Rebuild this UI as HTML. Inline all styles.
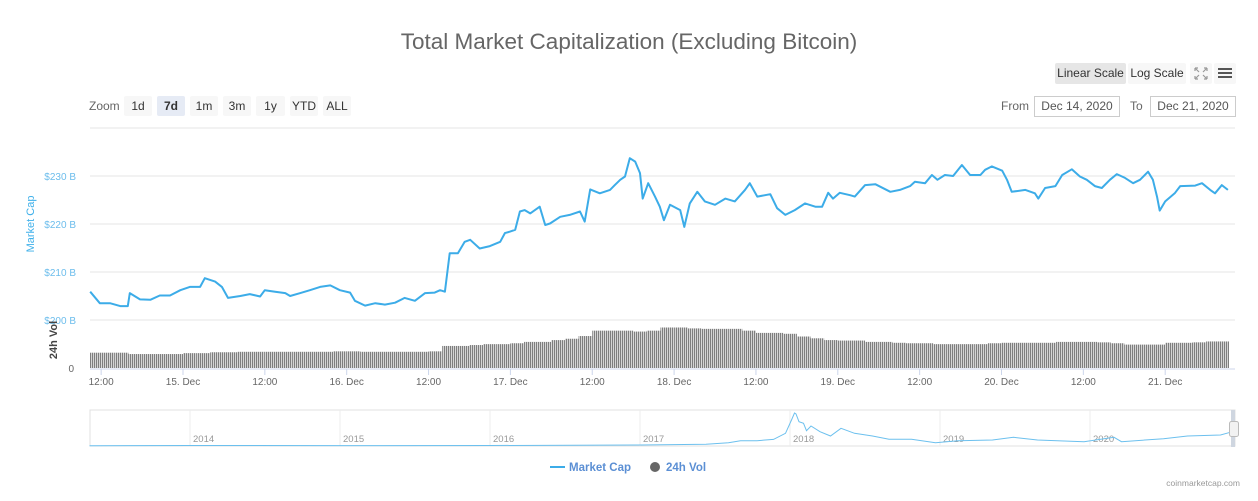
<!DOCTYPE html>
<html><head><meta charset="utf-8">
<style>
body{margin:0;background:#fff;font-family:"Liberation Sans",sans-serif;}
#wrap{position:relative;width:1258px;height:501px;overflow:hidden;}
.btn{position:absolute;height:20px;line-height:20px;font-size:12px;color:#333;background:#f7f7f7;text-align:center;border-radius:2px;}
.inp{position:absolute;height:19px;line-height:19px;border:1px solid #ccc;font-size:12px;color:#555;text-align:center;}
.lbl{position:absolute;font-size:12px;color:#666;}
</style></head>
<body><div id="wrap">
<div style="position:absolute;left:0;width:1258px;top:29px;text-align:center;font-size:22.5px;color:#666;">Total Market Capitalization (Excluding Bitcoin)</div>
<div class="btn" style="left:1055px;top:63px;width:71px;height:21px;line-height:21px;background:#e6e6e6;">Linear Scale</div>
<div class="btn" style="left:1128px;top:63px;width:58px;height:21px;line-height:21px;">Log Scale</div>
<div class="btn" style="left:1190px;top:63px;width:22px;height:21px;">
<svg width="22" height="21" style="position:absolute;left:0;top:0"><g stroke="#999" stroke-width="1.2" fill="none"><path d="M5 5l4 4M5 5h3M5 5v3"/><path d="M17 5l-4 4M17 5h-3M17 5v3"/><path d="M5 16l4-4M5 16h3M5 16v-3"/><path d="M17 16l-4-4M17 16h-3M17 16v-3"/></g></svg></div>
<div class="btn" style="left:1214px;top:63px;width:22px;height:21px;">
<div style="position:absolute;left:4px;top:5px;width:14px;height:2px;background:#555"></div><div style="position:absolute;left:4px;top:9px;width:14px;height:2px;background:#555"></div><div style="position:absolute;left:4px;top:13px;width:14px;height:2px;background:#555"></div></div>
<div class="lbl" style="left:89px;top:99px;">Zoom</div>
<div class="btn" style="left:124px;top:96px;width:28px;">1d</div>
<div class="btn" style="left:157px;top:96px;width:28px;background:#e6ebf5;font-weight:bold;">7d</div>
<div class="btn" style="left:190px;top:96px;width:28px;">1m</div>
<div class="btn" style="left:223px;top:96px;width:28px;">3m</div>
<div class="btn" style="left:256px;top:96px;width:29px;">1y</div>
<div class="btn" style="left:290px;top:96px;width:28px;">YTD</div>
<div class="btn" style="left:323px;top:96px;width:28px;">ALL</div>
<div class="lbl" style="left:1001px;top:99px;">From</div>
<div class="inp" style="left:1034px;top:96px;width:84px;">Dec 14, 2020</div>
<div class="lbl" style="left:1130px;top:99px;">To</div>
<div class="inp" style="left:1150px;top:96px;width:84px;">Dec 21, 2020</div>
<svg id="svg" width="1258" height="501" style="position:absolute;left:0;top:0">
<defs><pattern id="stripes" width="2" height="10" patternUnits="userSpaceOnUse"><rect width="1" height="10" fill="#7e7e7e"/><rect x="1" width="1" height="10" fill="#d4d4d4"/></pattern></defs>
</svg>
</div>
<script>
// Market cap (hours from 15 Dec 00:00, value in $B)
const capHours=[-13.6,-12.2,-10.7,-9.2,-8.1,-7.8,-6.3,-4.8,-3.4,-1.9,-0.4,1.0,2.5,3.2,4.7,5.7,6.6,8.4,9.8,11.3,12.0,13.5,15.0,15.7,17.2,18.6,20.1,21.6,23.0,24.5,25.2,26.7,28.2,29.6,31.1,32.5,34.0,35.5,36.9,37.7,38.4,39.1,40.3,41.3,42.1,43.5,45.0,46.5,47.2,47.9,48.7,49.4,50.1,50.9,52.3,53.1,53.8,55.3,56.7,58.2,58.9,59.7,61.1,62.6,63.3,64.1,64.8,65.5,66.3,67.0,67.4,68.2,69.2,69.9,70.5,71.4,72.9,73.5,74.3,75.4,76.5,78.0,79.5,80.9,82.4,83.1,84.2,86.1,87.1,88.3,89.7,91.2,92.7,93.7,94.6,95.3,96.3,97.8,98.5,100.0,101.5,103.7,105.1,106.6,107.3,108.8,109.8,110.6,111.7,112.9,114.2,115.4,116.9,117.6,118.6,120.1,120.8,121.5,123.5,124.9,125.4,126.4,127.9,128.9,130.3,131.5,132.5,133.7,134.7,135.9,136.9,138.1,139.3,140.3,141.5,142.2,142.8,143.2,144.0,145.4,146.2,148.4,149.4,150.6,151.3,152.3,153.2];
const capValues=[205.9,203.5,203.5,202.9,202.9,205.6,204.3,204.2,205.1,205.1,206.2,206.9,206.9,208.7,208.0,206.9,204.6,205.0,205.4,204.9,206.2,205.9,205.6,205.0,205.6,206.2,206.9,207.2,206.2,205.7,204.0,203.0,203.5,203.2,203.6,204.6,204.0,205.6,205.7,206.2,205.9,213.9,213.9,216.3,216.7,214.9,215.4,216.3,218.1,218.4,218.8,222.6,222.9,222.2,223.6,219.8,220.1,221.5,221.9,222.6,220.5,227.2,226.4,227.1,228.1,229.2,229.9,233.7,233.0,230.6,225.3,228.5,225.7,223.6,220.8,224.0,222.9,219.4,224.3,226.7,224.7,224.0,225.3,224.7,227.1,228.5,225.7,226.2,223.3,221.9,222.9,224.3,223.6,223.6,226.5,225.3,226.5,226.0,225.7,228.1,228.3,226.7,227.1,227.9,228.8,228.5,230.2,229.2,230.2,230.0,232.3,230.2,230.2,231.3,232.0,231.1,229.2,226.7,227.1,226.4,225.3,227.5,227.9,230.2,231.4,229.9,229.2,227.9,227.5,229.2,230.4,229.6,228.5,229.2,230.9,229.2,225.7,222.8,224.7,226.4,227.9,228.0,228.5,227.1,226.4,228.1,227.1];
// 24h volume, 2-hour buckets starting 14 Dec 10:00, $B
const volStartHour=-14;
const volValues=[34,34,34,31,31,31,31,33,33,35,35,36,36,36,36,36,36,36,37,37,36,36,36,36,36,37,49,49,51,53,53,55,58,58,62,65,71,83,83,83,81,83,90,90,88,87,87,87,83,78,78,76,70,66,62,61,61,58,58,56,55,55,53,53,53,53,55,56,56,56,56,58,58,58,57,55,52,52,52,56,56,57,59,59];
const capTicks=[200,210,220,230,240];
const xTickHours=[-12,0,12,24,36,48,60,72,84,96,108,120,132,144];
const xTickLabels=["12:00","15. Dec","12:00","16. Dec","12:00","17. Dec","12:00","18. Dec","12:00","19. Dec","12:00","20. Dec","12:00","21. Dec"];
// navigator: year fraction, value $B
const navYears=[2013.33,2014.0,2015.0,2016.0,2017.0,2017.44,2017.59,2017.67,2017.78,2017.89,2017.97,2018.01,2018.03,2018.04,2018.06,2018.09,2018.11,2018.14,2018.2,2018.27,2018.34,2018.43,2018.55,2018.66,2018.81,2018.97,2019.12,2019.35,2019.49,2019.65,2019.96,2020.16,2020.21,2020.49,2020.65,2020.87,2020.95];
const navValues=[5,8,6,7,15,26,50,80,80,100,192,394,500,485,368,344,232,303,217,152,268,192,152,102,102,50,80,91,132,91,65,132,65,110,152,167,217];
const navYearLabels=[2014,2015,2016,2017,2018,2019,2020];

const svg=document.getElementById('svg');
const NS='http://www.w3.org/2000/svg';
function el(tag,attrs,parent){const e=document.createElementNS(NS,tag);for(const k in attrs)e.setAttribute(k,attrs[k]);(parent||svg).appendChild(e);return e;}
const X=h=>183+h*6.8208;
const Y=v=>320-(v-200)*4.8;
const VY=v=>368-v*0.45;
const NX=t=>190+(t-2014)*150;
const NY=v=>446-v*0.066;

capTicks.forEach(v=>{
 const g=el('line',{x1:90,x2:1235,y1:Y(v),y2:Y(v),stroke:'#e6e6e6','stroke-width':1});
 
 
 if(v<240){const t=el('text',{x:76,y:Y(v)+4,'text-anchor':'end','font-size':10,fill:'#6cbdec'});t.textContent='$'+v+' B';
 
 }
});
const zt=el('text',{x:74,y:372,'text-anchor':'end','font-size':10,fill:'#666'});zt.textContent='0';


const yt=el('text',{x:0,y:0,'font-size':11,fill:'#3fb0ea',transform:'translate(34,224) rotate(-90)','text-anchor':'middle'});yt.textContent='Market Cap';


const vt=el('text',{x:0,y:0,'font-size':11,'font-weight':'bold',fill:'#444',transform:'translate(57,340) rotate(-90)','text-anchor':'middle'});vt.textContent='24h Vol';



volValues.forEach((v,i)=>{
 const h0=volStartHour+i*2;
 const x0=Math.max(90,X(h0)), x1=Math.min(1229,X(h0+2));
 if(x1<=x0)return;
 const r=el('rect',{x:x0,y:VY(v),width:x1-x0,height:368-VY(v),fill:'url(#stripes)'});
 
 
});
const ax=el('line',{x1:90,x2:1235,y1:369,y2:369,stroke:'#ccd6eb'});


xTickHours.forEach((h,i)=>{
 const tk=el('line',{x1:X(h),x2:X(h),y1:369,y2:375,stroke:'#ccd6eb'});
 
 
 const t=el('text',{x:X(h),y:385,'text-anchor':'middle','font-size':10,fill:'#666'});t.textContent=xTickLabels[i];
 
 
});
const pl=el('polyline',{points:capHours.map((h,i)=>X(h).toFixed(1)+','+Y(capValues[i]).toFixed(1)).join(' '),fill:'none',stroke:'#3cace8','stroke-width':2,'stroke-linejoin':'round'});



const nb=el('rect',{x:90,y:410,width:1145,height:36,fill:'none',stroke:'#e0e0e0'});


navYearLabels.forEach(yv=>{
 const l=el('line',{x1:NX(yv),x2:NX(yv),y1:410,y2:446,stroke:'#ececec'});
 
 
 const t=el('text',{x:NX(yv)+3,y:442,'font-size':9.5,fill:'#999'});t.textContent=yv;
 
 
});
const np=el('polyline',{points:navYears.map((t,i)=>NX(t).toFixed(1)+','+NY(navValues[i]).toFixed(1)).join(' '),fill:'none',stroke:'#6cc0ee','stroke-width':1});


const sel=el('rect',{x:1231,y:410,width:4,height:37,fill:'#cfd6e0'});


const hd=el('rect',{x:1229.5,y:421.5,width:9,height:15,fill:'#f2f2f2',stroke:'#bbb',rx:2});



const ll=el('line',{x1:550,x2:565,y1:467,y2:467,stroke:'#3cace8','stroke-width':2});


const lt=el('text',{x:569,y:471,'font-size':11.5,'font-weight':'bold',fill:'#5b8fd4'});lt.textContent='Market Cap';


const lc=el('circle',{cx:655,cy:467,r:5,fill:'#666'});


const lv=el('text',{x:666,y:471,'font-size':11.5,'font-weight':'bold',fill:'#5b8fd4'});lv.textContent='24h Vol';


const cr=el('text',{x:1240,y:486,'text-anchor':'end','font-size':8.5,fill:'#999'});cr.textContent='coinmarketcap.com';


</script>
</body></html>
